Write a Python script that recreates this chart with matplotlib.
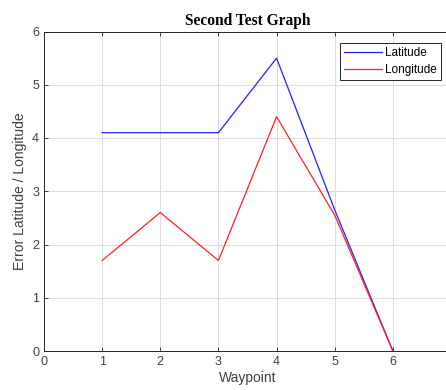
import matplotlib
matplotlib.use("Agg")
import matplotlib.pyplot as plt

waypoints = [1, 2, 3, 4, 5, 6]
latitude = [4.1, 4.1, 4.1, 5.5, 2.65, 0.0]
longitude = [1.7, 2.6, 1.7, 4.4, 2.55, 0.0]
xticks = [0, 1, 2, 3, 4, 5, 6]
yticks = [0, 1, 2, 3, 4, 5, 6]

plt.rcParams['font.family'] = ['Liberation Sans', 'DejaVu Sans']
fig = plt.figure(figsize=(4.46, 3.90), dpi=100)
W, H = 446, 390
left, right, top, bottom = 44, 451, 31.5, 351
ax = fig.add_axes([left / W, 1 - bottom / H, (right - left) / W, (bottom - top) / H])

ax.plot(waypoints, latitude, color='#2020ff', lw=0.9, label='Latitude')
ax.plot(waypoints, longitude, color='#ff2020', lw=0.9, label='Longitude')

ax.set_xlim(0, 7)
ax.set_ylim(0, 6)
ax.set_xticks(xticks)
ax.set_yticks(yticks)
ax.grid(True, color='#dcdcdc', lw=0.7)
ax.set_axisbelow(True)
ax.tick_params(direction='in', length=3, width=0.6, colors='#262626', labelsize=9,
               top=True, right=True)
for lab in ax.get_xticklabels() + ax.get_yticklabels():
    lab.set_color('#404040')
for s in ax.spines.values():
    s.set_color('#262626')
    s.set_linewidth(0.7)

ax.set_xlabel('Waypoint', fontsize=10, color='#404040', labelpad=2)
ax.set_ylabel('Error Latitude / Longitude', fontsize=10, color='#404040', labelpad=4)
ax.set_title('Second Test Graph', fontsize=11.2, fontweight='bold',
             family=['Liberation Serif', 'DejaVu Serif'], pad=5)

leg = ax.legend(loc='upper right', bbox_to_anchor=(441 / W, 1 - 43 / H),
                bbox_transform=fig.transFigure, fontsize=8.5, fancybox=False,
                framealpha=1, edgecolor='#262626', borderpad=0.35,
                labelspacing=0.4, handlelength=3.2, handletextpad=0.25,
                borderaxespad=0)
leg.get_frame().set_linewidth(0.7)

fig.savefig('out.png', dpi=100)
